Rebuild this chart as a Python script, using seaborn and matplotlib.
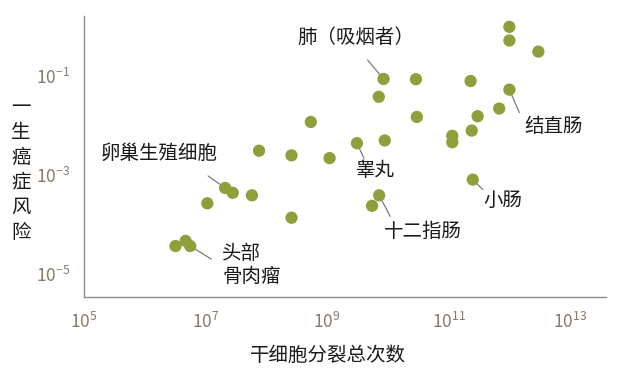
import matplotlib
matplotlib.use('Agg')
import matplotlib.pyplot as plt
import seaborn as sns
import pandas as pd

# Data
cell_divisions = [1.0e12, 1.0e12, 3.0e12, 8.5e9, 2.9e10, 2.3e11, 7.1e9, 1.0e12,
                  3.0e10, 3.0e11, 6.8e11, 2.4e11, 1.15e11, 1.15e11, 5.4e8, 3.1e9,
                  8.9e9, 1.1e9, 2.5e11, 7.6e7, 2.6e8, 2.1e7, 2.8e7, 5.8e7,
                  1.07e7, 2.6e8, 3.2e6, 4.7e6, 5.6e6, 7.2e9, 5.5e9]
lifetime_risk = [0.98, 0.52, 0.31, 0.087, 0.086, 0.079, 0.038, 0.053,
                 0.0149, 0.0154, 0.022, 0.0079, 0.0062, 0.0046, 0.0118, 0.0044,
                 0.0050, 0.0022, 0.00081, 0.0031, 0.0025, 0.00055, 0.00044, 0.00039,
                 0.00027, 0.000138, 3.7e-5, 4.7e-5, 3.7e-5, 0.00039, 0.00024]

# labelled cancer types and the point index each belongs to
label_names = ['肺（吸烟者）', '结直肠', '睾丸', '小肠', '十二指肠', '卵巢生殖细胞', '头部\n骨肉瘤']
label_index = [3, 7, 15, 18, 29, 21, 28]

x_ticks = [1e5, 1e7, 1e9, 1e11, 1e13]
y_ticks = [1e-5, 1e-3, 1e-1]

df = pd.DataFrame({'divisions': cell_divisions, 'risk': lifetime_risk})

sns.set_theme(style='white')
plt.rcParams['font.family'] = ['Noto Sans CJK SC', 'DejaVu Sans']

fig = plt.figure(figsize=(6.35, 3.73), dpi=100)
ax = fig.add_axes([84 / 635, 1 - 297 / 373, 522 / 635, 281 / 373])

sns.scatterplot(data=df, x='divisions', y='risk', ax=ax, s=78,
                color='#8e9f3c', edgecolor='none', zorder=3)

ax.set_xscale('log')
ax.set_yscale('log')
ax.set_xlim(1e5, 10 ** 13.59)
ax.set_ylim(10 ** -5.46, 10 ** 0.21)
ax.set_xticks(x_ticks)
ax.set_yticks(y_ticks)
ax.minorticks_off()
ax.set_xlabel('')
ax.set_ylabel('')

for side in ['top', 'right']:
    ax.spines[side].set_visible(False)
for side in ['left', 'bottom']:
    ax.spines[side].set_color('#8c8c8c')
    ax.spines[side].set_linewidth(1.0)

ax.tick_params(axis='both', which='major', direction='out', length=5,
               width=1.0, color='#8c8c8c', labelcolor='#857a6e', labelsize=12.5)
ax.tick_params(axis='x', pad=6)
ax.tick_params(axis='y', pad=5)

# leader line end offset and text offset, in pixels from the point
layout = {
    '肺（吸烟者）': ((-16, 19), (-28, 41), 'center'),
    '结直肠': ((10, -23), (44, -37), 'center'),
    '睾丸': ((7, -15), (18, -27), 'center'),
    '小肠': ((10, -10), (30, -21), 'center'),
    '十二指肠': ((11, -21), (44, -36), 'center'),
    '卵巢生殖细胞': ((-17, 12), (-66, 35), 'center'),
    '头部\n骨肉瘤': ((21, -13), (32, -19), 'left'),
}

for name, idx in zip(label_names, label_index):
    pt = (cell_divisions[idx], lifetime_risk[idx])
    line_end, text_off, ha = layout[name]
    ax.annotate('', xy=pt, xytext=line_end, textcoords='offset pixels',
                arrowprops=dict(arrowstyle='-', color='#7a7a7a', lw=0.9,
                                shrinkA=0, shrinkB=4.5))
    ax.annotate(name, xy=pt, xytext=text_off, textcoords='offset pixels',
                ha=ha, va='center', fontsize=14, color='#1a1a1a',
                linespacing=1.15)

fig.text(21 / 635, 1 - 170 / 373, '\n'.join('一生癌症风险'), ha='center', va='center',
         fontsize=14, color='#1a1a1a', linespacing=1.24)
fig.text(328 / 635, 1 - 355 / 373, '干细胞分裂总次数', ha='center', va='center',
         fontsize=14, color='#1a1a1a')

fig.savefig('out.png', dpi=100, facecolor='white')
